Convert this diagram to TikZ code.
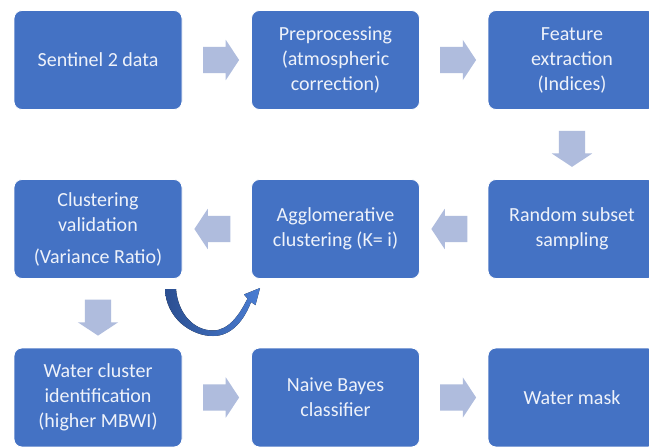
\documentclass[tikz,border=0pt]{standalone}
\usepackage{fontspec}
\setmainfont{Carlito}
\usetikzlibrary{shapes.arrows,calc}
\definecolor{boxblue}{HTML}{4472C4}
\definecolor{arrowgrey}{HTML}{AFBCDD}
\definecolor{txtc}{HTML}{EEF2FA}
\definecolor{curvedark}{HTML}{2B4F91}
\definecolor{curvelight}{HTML}{4A7DD3}
\tikzset{
  procbox/.style={rectangle, rounded corners=8pt, fill=boxblue, draw=white, line width=0.8pt,
    minimum width=168pt, minimum height=99pt, text=txtc, align=center,
    font=\fontsize{20}{25}\selectfont, inner sep=0pt},
  blockarrow/.style={single arrow, fill=arrowgrey, draw=none, inner xsep=0pt, inner ysep=13pt,
    minimum height=36pt, single arrow head extend=7pt, single arrow head indent=0pt,
    single arrow tip angle=113}
}
\begin{document}
\begin{tikzpicture}[x=1pt,y=-1pt]
\useasboundingbox (0,0) rectangle (649,447);
\fill[white] (0,0) rectangle (649,447);
\clip (0,0) rectangle (649,447);
% row 1
\node[procbox] (s2) at (98,60) {Sentinel 2 data};
\node[procbox] (pre) at (335.5,60) {Preprocessing\\(atmospheric\\correction)};
\node[procbox] (feat) at (572,60) {Feature\\extraction\\(Indices)};
% row 2
\node[procbox] (val) at (98,229) {Clustering\\validation\\[7pt](Variance Ratio)};
\node[procbox] (agg) at (335.5,229) {Agglomerative\\clustering (K= i)};
\node[procbox] (rand) at (572,229) {Random subset\\sampling};
% row 3
\node[procbox] (wid) at (98,397.5) {Water cluster\\identification\\(higher MBWI)};
\node[procbox] (nb) at (335.5,397.5) {Naive Bayes\\classifier};
\node[procbox] (mask) at (572,397.5) {Water mask};
% block arrows
\node[blockarrow] (a1) at ($(s2.east)!0.5!(pre.west)$) {};
\node[blockarrow] (a2) at ($(pre.east)!0.5!(feat.west)$) {};
\node[blockarrow, rotate=-90] (a3) at ($(feat.south)!0.5!(rand.north)$) {};
\node[blockarrow, rotate=180] (a4) at ($(rand.west)!0.5!(agg.east)$) {};
\node[blockarrow, rotate=180] (a5) at ($(agg.west)!0.5!(val.east)$) {};
\node[blockarrow, rotate=-90] (a6) at ($(val.south)!0.5!(wid.north)$) {};
\node[blockarrow] (a7) at ($(wid.east)!0.5!(nb.west)$) {};
\node[blockarrow] (a8) at ($(nb.east)!0.5!(mask.west)$) {};
% curved loop arrow
\fill[left color=curvedark, right color=curvelight]
  (165,289) .. controls (166,318) and (191,336) .. (213,336)
  .. controls (233,336) and (245,318) .. (251,302)
  -- (255.5,305) -- (260,288) -- (244,294.5) -- (247.5,298.5)
  .. controls (240,314) and (229,330.5) .. (213,330.5)
  .. controls (194,330.5) and (178,314) .. (176,289) -- cycle;
\end{tikzpicture}
\end{document}
